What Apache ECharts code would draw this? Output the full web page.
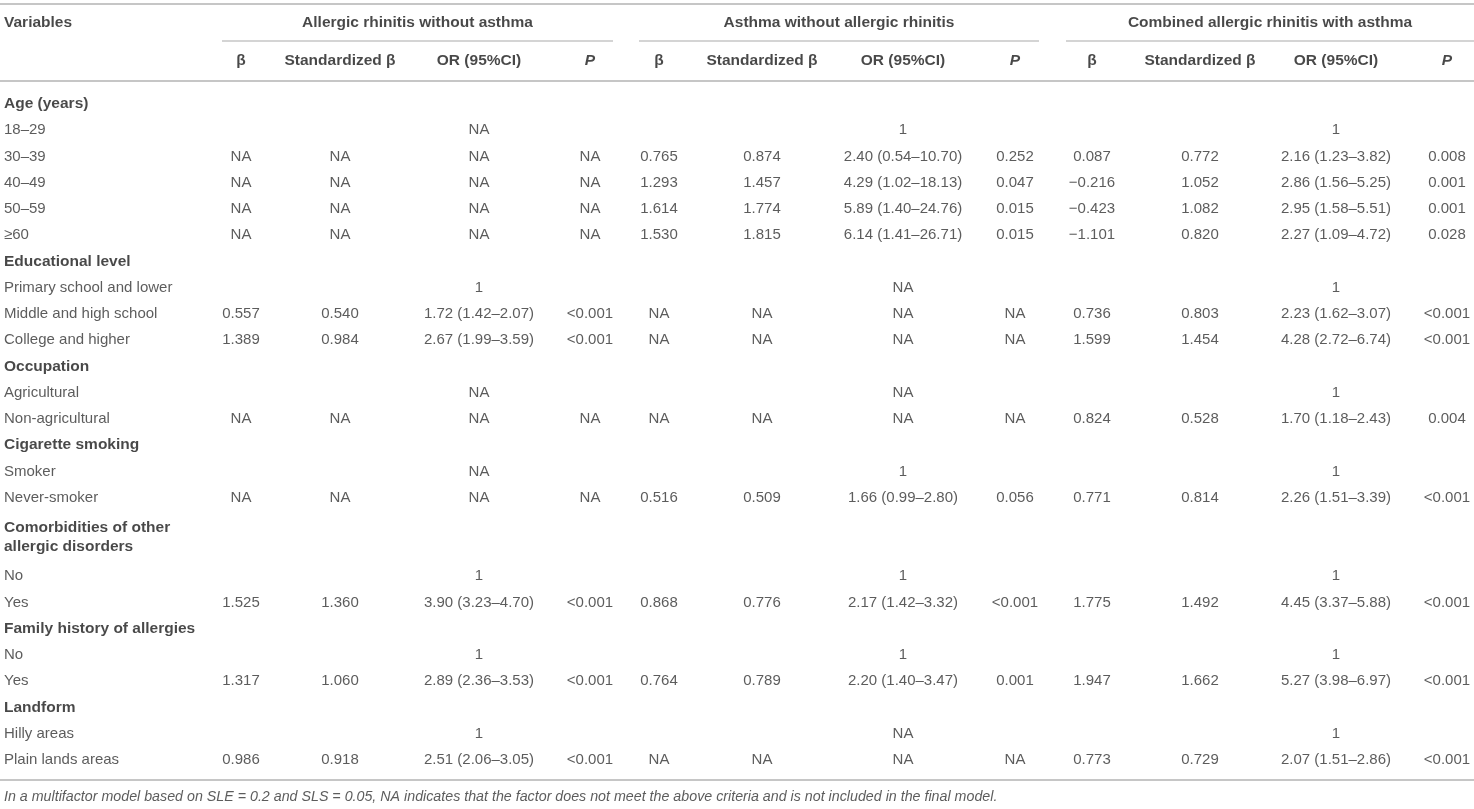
<!DOCTYPE html>
<html lang="en">
<head>
    <meta charset="UTF-8">
    <title>Multifactor model table</title>
    <script src="https://cdn.jsdelivr.net/npm/echarts/dist/echarts.min.js"></script>
    <style>
        html, body {
            margin: 0;
            padding: 0;
            background-color: #ffffff;
        }

        #table {
            width: 1474px;
            height: 809px;
        }
    </style>
</head>
<body>
    <div id="table"></div>

    <script>
        // ---- data ----
        const groups = ['Allergic rhinitis without asthma', 'Asthma without allergic rhinitis', 'Combined allergic rhinitis with asthma'];
        const subHeaders = ['β', 'Standardized β', 'OR (95%CI)', 'P'];

        const variables = [
            'Age (years)', '18–29', '30–39', '40–49', '50–59', '≥60',
            'Educational level', 'Primary school and lower', 'Middle and high school', 'College and higher',
            'Occupation', 'Agricultural', 'Non-agricultural',
            'Cigarette smoking', 'Smoker', 'Never-smoker',
            'Comorbidities of other\nallergic disorders', 'No', 'Yes',
            'Family history of allergies', 'No', 'Yes',
            'Landform', 'Hilly areas', 'Plain lands areas'
        ];
        const headingRows = [0, 6, 10, 13, 16, 19, 22];

        const NA4 = ['NA', 'NA', 'NA', 'NA'];

        // null = heading row, string = reference value, array = β, std β, OR, P
        const rhinitisOnly = [
            null, 'NA', NA4, NA4, NA4, NA4,
            null, '1', ['0.557', '0.540', '1.72 (1.42–2.07)', '<0.001'], ['1.389', '0.984', '2.67 (1.99–3.59)', '<0.001'],
            null, 'NA', NA4,
            null, 'NA', NA4,
            null, '1', ['1.525', '1.360', '3.90 (3.23–4.70)', '<0.001'],
            null, '1', ['1.317', '1.060', '2.89 (2.36–3.53)', '<0.001'],
            null, '1', ['0.986', '0.918', '2.51 (2.06–3.05)', '<0.001']
        ];

        const asthmaOnly = [
            null, '1',
            ['0.765', '0.874', '2.40 (0.54–10.70)', '0.252'],
            ['1.293', '1.457', '4.29 (1.02–18.13)', '0.047'],
            ['1.614', '1.774', '5.89 (1.40–24.76)', '0.015'],
            ['1.530', '1.815', '6.14 (1.41–26.71)', '0.015'],
            null, 'NA', NA4, NA4,
            null, 'NA', NA4,
            null, '1', ['0.516', '0.509', '1.66 (0.99–2.80)', '0.056'],
            null, '1', ['0.868', '0.776', '2.17 (1.42–3.32)', '<0.001'],
            null, '1', ['0.764', '0.789', '2.20 (1.40–3.47)', '0.001'],
            null, 'NA', NA4
        ];

        const combined = [
            null, '1',
            ['0.087', '0.772', '2.16 (1.23–3.82)', '0.008'],
            ['−0.216', '1.052', '2.86 (1.56–5.25)', '0.001'],
            ['−0.423', '1.082', '2.95 (1.58–5.51)', '0.001'],
            ['−1.101', '0.820', '2.27 (1.09–4.72)', '0.028'],
            null, '1', ['0.736', '0.803', '2.23 (1.62–3.07)', '<0.001'], ['1.599', '1.454', '4.28 (2.72–6.74)', '<0.001'],
            null, '1', ['0.824', '0.528', '1.70 (1.18–2.43)', '0.004'],
            null, '1', ['0.771', '0.814', '2.26 (1.51–3.39)', '<0.001'],
            null, '1', ['1.775', '1.492', '4.45 (3.37–5.88)', '<0.001'],
            null, '1', ['1.947', '1.662', '5.27 (3.98–6.97)', '<0.001'],
            null, '1', ['0.773', '0.729', '2.07 (1.51–2.86)', '<0.001']
        ];

        const footnote = 'In a multifactor model based on SLE = 0.2 and SLS = 0.05, NA indicates that the factor does not meet the above criteria and is not included in the final model.';

        // ---- layout ----
        const W = 1474, H = 809;
        const colX = [4, 241, 340, 479, 590, 659, 762, 903, 1015, 1092, 1200, 1336, 1447];
        const groupSpan = [[222, 613], [639, 1039], [1066, 1474]];
        const rowTop = 104, rowStep = 26.24;
        const ruleColor = '#c6c6c6';
        const font = '"Liberation Sans", Arial, Helvetica, sans-serif';

        // slot positions (the two-line label takes two slots)
        const rowYs = [];
        let slot = 0;
        variables.forEach(function (v) {
            if (v.indexOf('\n') >= 0) {
                rowYs.push(rowTop + (slot + 0.5) * rowStep);
                slot += 2;
            } else {
                rowYs.push(rowTop + slot * rowStep);
                slot += 1;
            }
        });

        const headerItems = [];
        headerItems.push({ name: 'Variables', value: [colX[0], 23], label: { align: 'left' } });
        groups.forEach(function (g, gi) {
            const mid = (groupSpan[gi][0] + groupSpan[gi][1]) / 2;
            headerItems.push({ name: g, value: [mid, 23] });
            subHeaders.forEach(function (s, si) {
                headerItems.push({
                    name: s,
                    value: [colX[1 + gi * 4 + si], 61],
                    label: { fontStyle: s === 'P' ? 'italic' : 'normal' }
                });
            });
        });

        const varItems = variables.map(function (v, i) {
            const bold = headingRows.indexOf(i) >= 0;
            return {
                name: v,
                value: [colX[0], rowYs[i]],
                label: {
                    fontWeight: bold ? 'bold' : 'normal',
                    fontSize: bold ? 15.5 : 15,
                    color: bold ? '#1a1a1a' : '#333',
                    lineHeight: 19
                }
            };
        });

        const cellItems = [];
        [rhinitisOnly, asthmaOnly, combined].forEach(function (grp, gi) {
            grp.forEach(function (entry, i) {
                if (entry === null) return;
                if (typeof entry === 'string') {
                    cellItems.push({ name: entry, value: [colX[1 + gi * 4 + 2], rowYs[i]] });
                } else {
                    entry.forEach(function (txt, ci) {
                        cellItems.push({ name: txt, value: [colX[1 + gi * 4 + ci], rowYs[i]] });
                    });
                }
            });
        });

        const rules = [
            { coords: [[0, 4], [W, 4]], lineStyle: { width: 2 } },
            { coords: [[0, 81], [W, 81]], lineStyle: { width: 2 } },
            { coords: [[0, 780], [W, 780]], lineStyle: { width: 2 } }
        ];
        groupSpan.forEach(function (s) {
            rules.push({ coords: [[s[0], 41], [s[1], 41]], lineStyle: { width: 1.5 } });
        });

        const textLabel = {
            show: true,
            position: [0, 0],
            align: 'center',
            verticalAlign: 'middle',
            formatter: '{b}',
            fontFamily: font,
            fontSize: 15,
            color: '#333'
        };

        const table = echarts.init(document.getElementById('table'));
        const option = {
            animation: false,
            backgroundColor: '#ffffff',
            grid: { left: 0, right: 0, top: 0, bottom: 0 },
            xAxis: { type: 'value', min: 0, max: W, show: false },
            yAxis: { type: 'value', min: 0, max: H, inverse: true, show: false },
            series: [
                {
                    name: 'rules',
                    type: 'lines',
                    coordinateSystem: 'cartesian2d',
                    silent: true,
                    lineStyle: { color: ruleColor, opacity: 1 },
                    data: rules
                },
                {
                    name: 'header',
                    type: 'scatter',
                    symbolSize: 0,
                    silent: true,
                    label: Object.assign({}, textLabel, { fontWeight: 'bold', fontSize: 15.5, color: '#1a1a1a' }),
                    data: headerItems
                },
                {
                    name: 'variables',
                    type: 'scatter',
                    symbolSize: 0,
                    silent: true,
                    label: Object.assign({}, textLabel, { align: 'left' }),
                    data: varItems
                },
                {
                    name: 'cells',
                    type: 'scatter',
                    symbolSize: 0,
                    silent: true,
                    label: textLabel,
                    data: cellItems
                },
                {
                    name: 'footnote',
                    type: 'scatter',
                    symbolSize: 0,
                    silent: true,
                    label: Object.assign({}, textLabel, { align: 'left', fontStyle: 'italic', fontSize: 14.25 }),
                    data: [{ name: footnote, value: [colX[0], 797] }]
                }
            ]
        };
        table.setOption(option);
    </script>
</body>
</html>
